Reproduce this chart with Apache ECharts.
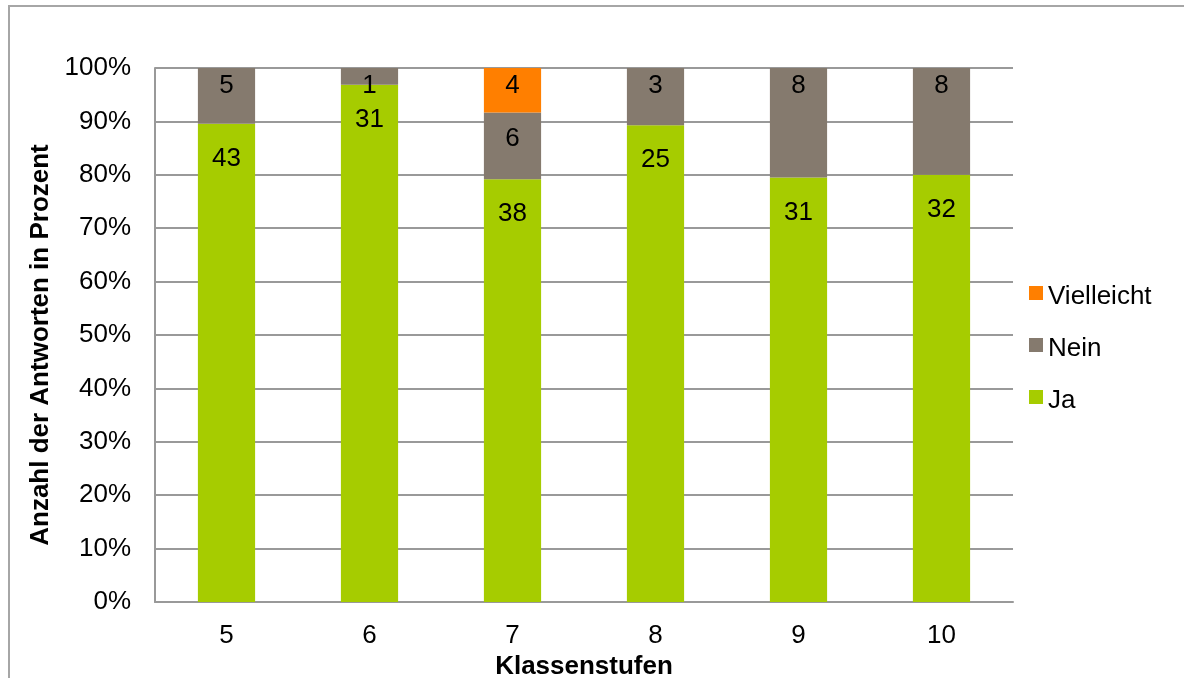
<!DOCTYPE html>
<html>
<head>
<meta charset="utf-8">
<script src="https://cdn.jsdelivr.net/npm/echarts@6/dist/echarts.min.js"></script>
<style>
  html, body { margin: 0; padding: 0; background: #fff; }
  #chart { width: 1184px; height: 678px; }
</style>
</head>
<body>
<div id="chart"></div>
<script>
// Answers per grade level (absolute counts)
const categories = ['5', '6', '7', '8', '9', '10'];
const ja = [43, 31, 38, 25, 31, 32];
const nein = [5, 1, 6, 3, 8, 8];
const vielleicht = [0, 0, 4, 0, 0, 0];

// How far each value label sits below the top of its segment (px)
const jaLabelInset = [22, 22, 22, 22, 22, 22];
const neinLabelInset = [5, 5, 13, 5, 5, 5];
const vielleichtLabelInset = [5, 5, 5, 5, 5, 5];

// Each column is shown as shares of its total (100 % stacked)
const totals = categories.map((_, i) => ja[i] + nein[i] + vielleicht[i]);

const FONT = '"Liberation Sans", Arial, sans-serif';
const SIZE = 26;
const colors = { ja: '#a6cc00', nein: '#857a6e', vielleicht: '#ff7f00' };

function series(name, arr, insets, color) {
  return {
    name: name,
    type: 'bar',
    stack: 'total',
    barWidth: '40%',
    data: arr.map((v, i) => ({
      value: v / totals[i] * 100,
      count: v,
      label: { distance: insets[i] }
    })),
    itemStyle: { color: color },
    label: {
      show: true,
      position: 'insideTop',
      color: '#000',
      fontFamily: FONT,
      fontSize: SIZE,
      formatter: p => (p.data.count ? String(p.data.count) : '')
    }
  };
}

// square legend marker sitting slightly above the text's centre line
const legendIcon = 'path://M0,0L14,0L14,14L0,14Z M0,22L0.01,22Z';

const chart = echarts.init(document.getElementById('chart'));
chart.setOption({
  animation: false,
  backgroundColor: '#fff',
  textStyle: { fontFamily: FONT },
  graphic: [{
    type: 'rect',
    shape: { x: 9, y: 6, width: 1300, height: 800 },
    style: { fill: 'none', stroke: '#a6a6a6', lineWidth: 2 },
    silent: true
  }],
  grid: {
    left: 155, right: 171, top: 68, bottom: 76,
    containLabel: false,
    outerBoundsMode: 'none'
  },
  legend: {
    orient: 'vertical',
    left: 1024,
    top: 279,
    itemGap: 26,
    itemWidth: 14,
    itemHeight: 22,
    icon: legendIcon,
    data: ['Vielleicht', 'Nein', 'Ja'],
    textStyle: { fontFamily: FONT, fontSize: SIZE, color: '#000', padding: [0, 0, 0, 0] }
  },
  xAxis: {
    type: 'category',
    data: categories,
    name: 'Klassenstufen',
    nameLocation: 'middle',
    nameGap: 47,
    nameTextStyle: { fontFamily: FONT, fontSize: SIZE, fontWeight: 'bold', color: '#000' },
    axisLine: { lineStyle: { color: '#999', width: 2 } },
    axisTick: { show: false },
    axisLabel: { fontFamily: FONT, fontSize: SIZE, color: '#000', margin: 21 }
  },
  yAxis: {
    type: 'value',
    min: 0,
    max: 100,
    interval: 10,
    name: 'Anzahl der Antworten in Prozent',
    nameLocation: 'middle',
    nameGap: 91,
    nameTextStyle: {
      fontFamily: FONT, fontSize: SIZE, fontWeight: 'bold', color: '#000',
      padding: [0, 20, 0, 0]
    },
    axisLine: { show: true, lineStyle: { color: '#999', width: 2 } },
    axisTick: { show: false },
    splitLine: { lineStyle: { color: '#999', width: 2 } },
    axisLabel: { fontFamily: FONT, fontSize: SIZE, color: '#000', margin: 24, formatter: '{value}%' }
  },
  series: [
    series('Ja', ja, jaLabelInset, colors.ja),
    series('Nein', nein, neinLabelInset, colors.nein),
    series('Vielleicht', vielleicht, vielleichtLabelInset, colors.vielleicht)
  ]
});
</script>
</body>
</html>
